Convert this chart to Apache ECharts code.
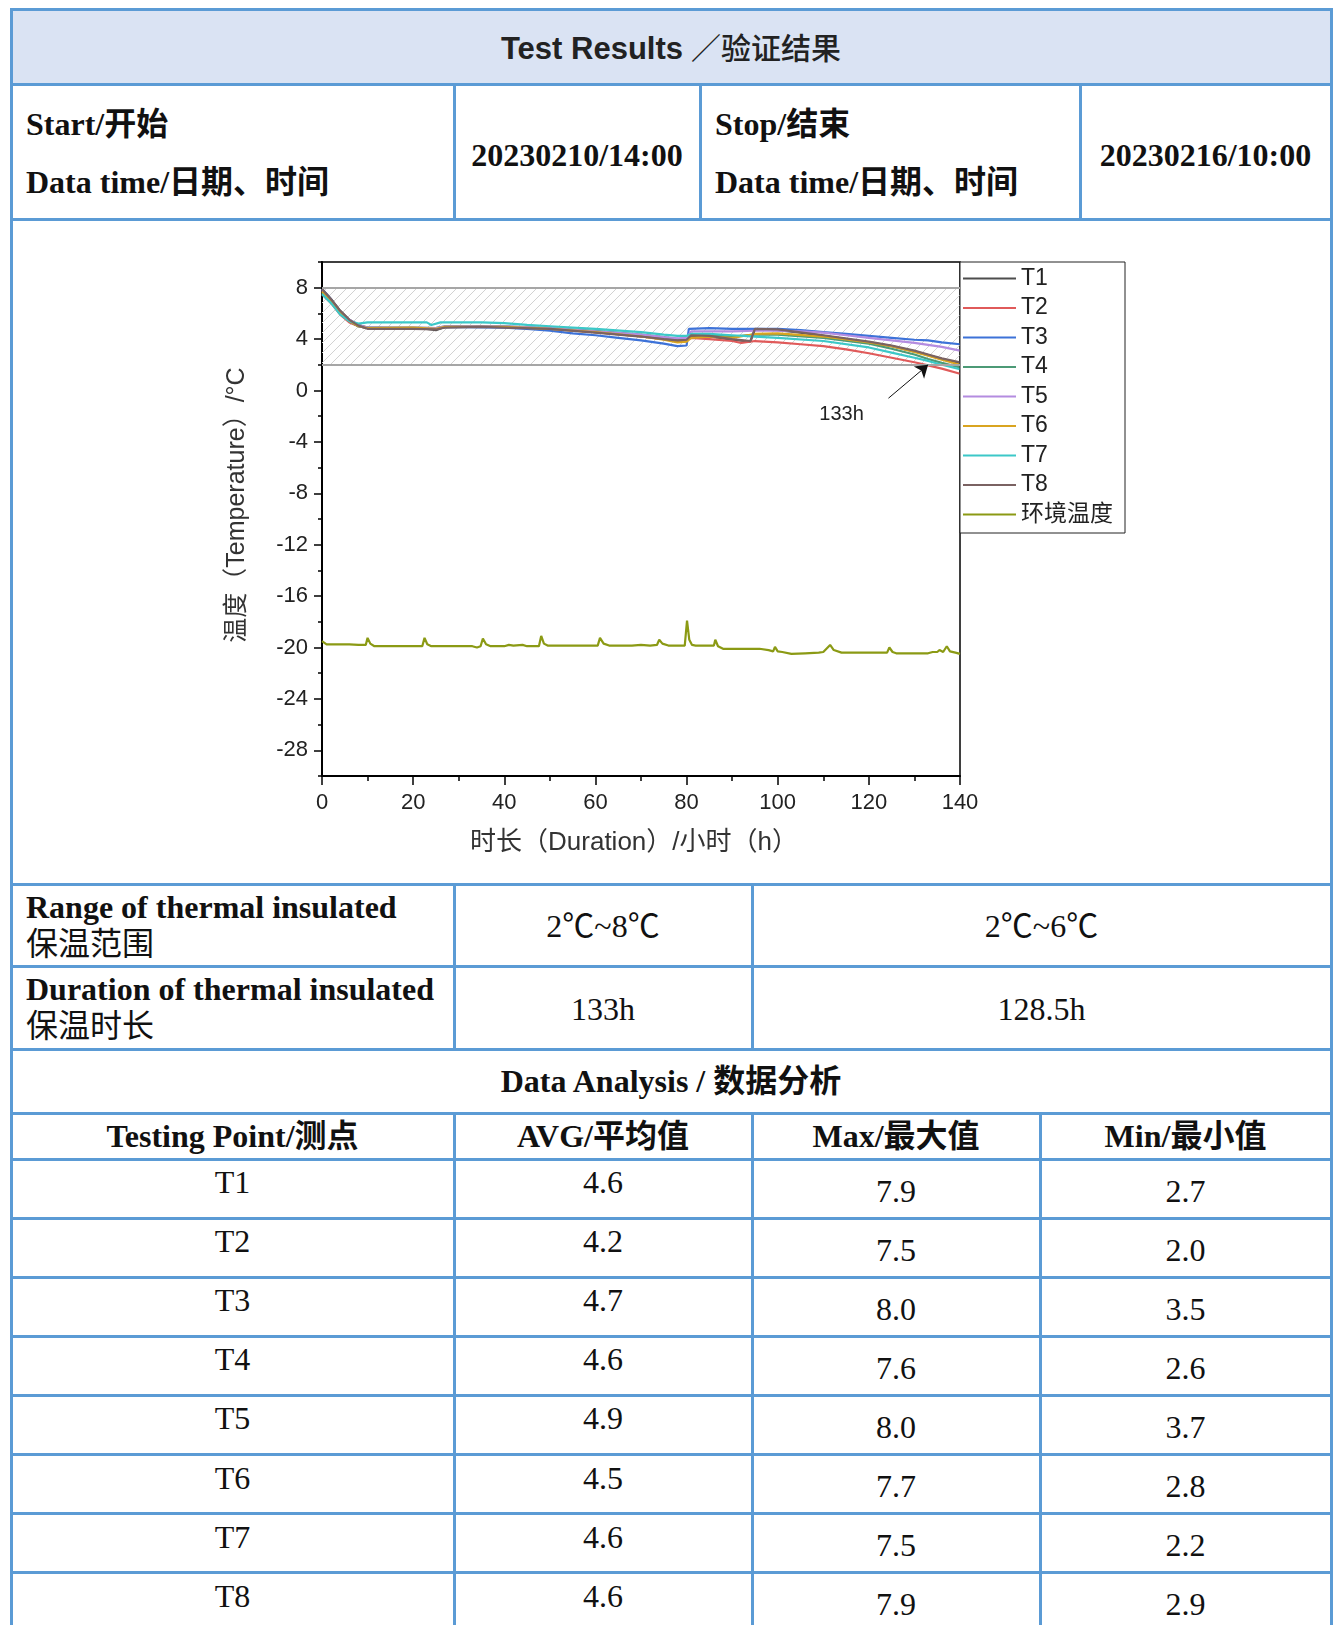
<!DOCTYPE html>
<html><head><meta charset="utf-8">
<script src="https://cdn.jsdelivr.net/npm/echarts@6/dist/echarts.min.js"></script>
<style>
body{margin:0;width:1334px;height:1625px;background:#fff;position:relative;overflow:hidden;}
.c{position:absolute;box-sizing:border-box;border:3px solid #5b9bd5;background:#fff;}
.t{position:absolute;white-space:nowrap;color:#111;font-family:"Liberation Serif","Times New Roman","Noto Sans CJK SC",serif;font-size:32px;line-height:1;}
.b{font-weight:bold;}
</style></head><body>
<div id="cells"></div>
<div id="chart" style="position:absolute;left:13px;top:222px;width:1315px;height:660px;"></div>
<script>
// ---------- chart data ----------
const seriesNames = ['T1','T2','T3','T4','T5','T6','T7','T8','环境温度'];
const yTickLabels = [-28,-24,-20,-16,-12,-8,-4,0,4,8];
const t1 = [[0,7.9],[2,7.1],[4,6.2],[6,5.5],[8,5.1],[10,4.9],[15,4.85],[20,4.85],[23,4.8],[25,4.7],[27,4.95],[30,5.0],[35,5.0],[40,4.95],[45,4.9],[50,4.8],[55,4.7],[60,4.55],[65,4.4],[70,4.25],[75,4.05],[78,3.85],[80,3.85],[81,4.2],[85,4.2],[90,3.95],[94,3.8],[95,4.75],[100,4.7],[105,4.5],[110,4.25],[115,4.0],[120,3.75],[125,3.45],[130,3.05],[133,2.75],[136,2.45],[140,2.1]];
const t2 = [[0,7.5],[2,6.8],[4,5.9],[6,5.3],[8,5.0],[10,4.85],[20,4.85],[25,4.8],[27,4.95],[40,4.95],[50,4.8],[60,4.55],[70,4.2],[75,4.0],[78,3.85],[80,3.9],[81,4.1],[85,4.0],[90,3.85],[92,3.7],[95,3.85],[100,3.75],[105,3.6],[110,3.45],[115,3.2],[120,2.9],[125,2.55],[130,2.2],[133,1.95],[136,1.7],[140,1.3]];
const t3 = [[0,7.9],[2,7.1],[4,6.1],[6,5.4],[8,5.0],[10,4.85],[20,4.85],[25,4.85],[27,4.95],[40,4.9],[45,4.8],[50,4.65],[55,4.45],[60,4.3],[65,4.1],[70,3.9],[75,3.65],[78,3.45],[80,3.5],[80.5,4.8],[85,4.85],[90,4.8],[95,4.8],[100,4.8],[105,4.7],[110,4.55],[115,4.4],[120,4.25],[125,4.1],[130,3.95],[133,3.9],[136,3.75],[140,3.6]];
const t4 = [[0,7.6],[2,6.9],[4,6.0],[6,5.4],[8,5.0],[10,4.9],[20,4.9],[25,4.85],[27,5.0],[40,5.0],[50,4.85],[60,4.65],[70,4.35],[75,4.15],[78,4.0],[80,4.05],[81,4.35],[85,4.3],[90,4.2],[95,4.35],[100,4.35],[110,4.1],[120,3.65],[125,3.25],[130,2.8],[133,2.45],[136,2.15],[140,1.8]];
const t5 = [[0,7.8],[2,7.0],[4,6.1],[6,5.5],[8,5.1],[10,4.9],[20,4.9],[25,4.85],[27,5.0],[40,5.0],[50,4.85],[60,4.6],[70,4.35],[75,4.15],[78,4.05],[80,4.1],[81,4.6],[85,4.6],[90,4.6],[95,4.65],[100,4.65],[105,4.6],[110,4.5],[115,4.3],[120,4.1],[125,3.9],[130,3.7],[133,3.55],[136,3.4],[140,3.1]];
const t6 = [[0,7.7],[2,7.0],[4,6.1],[6,5.4],[8,5.0],[10,4.85],[20,4.9],[25,4.8],[27,4.95],[40,4.95],[50,4.8],[60,4.55],[70,4.2],[75,3.95],[78,3.75],[80,3.8],[81,4.1],[85,4.2],[90,4.1],[95,4.4],[100,4.45],[110,4.2],[120,3.75],[125,3.45],[130,3.0],[133,2.7],[136,2.4],[140,2.0]];
const t7 = [[0,7.5],[2,6.8],[4,5.9],[6,5.4],[8,5.2],[10,5.3],[20,5.3],[23,5.3],[24,5.1],[26,5.3],[35,5.3],[40,5.25],[45,5.1],[50,5.0],[60,4.8],[70,4.55],[75,4.35],[78,4.25],[80,4.25],[81,4.4],[85,4.4],[90,4.3],[95,4.2],[100,4.1],[110,3.85],[120,3.35],[125,2.95],[130,2.55],[133,2.3],[136,2.0],[140,1.65]];
const t8 = [[0,7.9],[2,7.1],[4,6.2],[6,5.5],[8,5.05],[10,4.8],[20,4.8],[25,4.75],[27,4.9],[35,4.95],[40,4.9],[50,4.8],[60,4.5],[70,4.2],[75,4.0],[78,3.9],[80,3.95],[81,4.3],[85,4.25],[90,4.0],[94,3.85],[95,4.8],[100,4.75],[110,4.3],[120,3.8],[125,3.5],[130,3.1],[133,2.8],[136,2.5],[140,2.2]];
const ambient = [[0,-19.5],[1,-19.75],[6,-19.75],[8,-19.8],[9.6,-19.8],[10,-19.25],[10.6,-19.7],[11.5,-19.9],[22,-19.9],[22.5,-19.25],[23.1,-19.75],[24,-19.9],[33,-19.9],[34,-20.0],[34.8,-19.9],[35.3,-19.3],[36,-19.75],[37,-19.9],[40,-19.9],[41,-19.8],[42,-19.85],[44,-19.8],[45,-19.9],[47.6,-19.9],[48.1,-19.1],[48.7,-19.7],[49.5,-19.85],[60.5,-19.85],[61,-19.25],[61.8,-19.7],[63,-19.85],[68,-19.85],[70,-19.8],[72,-19.85],[73.5,-19.8],[74,-19.4],[74.7,-19.7],[76,-19.85],[79.6,-19.85],[80.1,-17.9],[80.6,-19.4],[81.2,-19.8],[82,-19.85],[86,-19.85],[86.3,-19.4],[86.9,-19.9],[88,-20.1],[96,-20.1],[98,-20.2],[99,-20.3],[99.4,-19.95],[100,-20.3],[101,-20.35],[103,-20.5],[106,-20.45],[109,-20.4],[110,-20.35],[111.5,-19.8],[112.3,-20.2],[114,-20.4],[124,-20.4],[124.5,-20.0],[125.2,-20.35],[126,-20.45],[133,-20.45],[134,-20.35],[135,-20.35],[135.5,-20.2],[136.3,-20.35],[137.1,-19.9],[137.8,-20.3],[139,-20.4],[140,-20.5]];
const bandLimits = [8, 2];
const arrowFrom = [124.3, -0.6];
const arrowTo = [133, 2];
const noteAt = [114, -1.9];
const noteText = '133h';

// ---------- table data ----------
const points = ['T1','T2','T3','T4','T5','T6','T7','T8'];
const avgVals = ['4.6','4.2','4.7','4.6','4.9','4.5','4.6','4.6'];
const maxVals = ['7.9','7.5','8.0','7.6','8.0','7.7','7.5','7.9'];
const minVals = ['2.7','2.0','3.5','2.6','3.7','2.8','2.2','2.9'];

// ---------- table drawing ----------
const host = document.getElementById('cells');
function cell(x1,y1,x2,y2,bg){
  const d=document.createElement('div'); d.className='c';
  d.style.left=(x1-1.5)+'px'; d.style.top=(y1-1.5)+'px';
  d.style.width=(x2-x1+3)+'px'; d.style.height=(y2-y1+3)+'px';
  if(bg) d.style.background=bg;
  host.appendChild(d);
}
function txt(x,y,html,cls,align,extra){
  const d=document.createElement('div'); d.className='t '+(cls||'');
  d.innerHTML=html;
  d.style.left=x+'px'; d.style.top=y+'px';
  d.style.transform = align==='left' ? 'translate(0,-50%)' : 'translate(-50%,-50%)';
  if(extra) Object.assign(d.style, extra);
  host.appendChild(d);
}
cell(11,9,1331,84,'#dae3f3');
cell(11,84,454,219); cell(454,84,700,219); cell(700,84,1080,219); cell(1080,84,1331,219);
cell(11,219,1331,884);
cell(11,884,454,966); cell(454,884,752,966); cell(752,884,1331,966);
cell(11,966,454,1049); cell(454,966,752,1049); cell(752,966,1331,1049);
cell(11,1049,1331,1113);
const colX=[11,454,752,1040,1331];
const rowY=[1113,1159];
for(let i=1;i<=8;i++) rowY.push(1159+i*59.1);
for(let r=0;r<rowY.length-1;r++) for(let c=0;c<4;c++) cell(colX[c],rowY[r],colX[c+1],rowY[r+1]);

txt(671,46.5,'<span style="font-family:\'Liberation Sans\',Arial,sans-serif;font-weight:bold;font-size:31px;">Test Results</span> <span style="font-family:\'Noto Sans CJK SC\';font-weight:500;font-size:30px;">／验证结果</span>','','center',{color:'#222'});
txt(26,124,'Start/开始','b','left');
txt(26,182,'Data time/日期、时间','b','left');
txt(715,124,'Stop/结束','b','left');
txt(715,182,'Data time/日期、时间','b','left');
txt(577,154.5,'20230210/14:00','b');
txt(1205.5,154.5,'20230216/10:00','b');
txt(26,907,'Range of thermal insulated','b','left');
txt(26,944,'保温范围','','left');
txt(603,925.6,'2℃~8℃');
txt(1041.5,925.6,'2℃~6℃');
txt(26,989,'Duration of thermal insulated','b','left');
txt(26,1026,'保温时长','','left');
txt(603,1008.5,'133h');
txt(1041.5,1008.5,'128.5h');
txt(671,1081,'Data Analysis / 数据分析','b');
txt(232.5,1136,'Testing Point/测点','b');
txt(603,1136,'AVG/平均值','b');
txt(896,1136,'Max/最大值','b');
txt(1185.5,1136,'Min/最小值','b');
for(let i=0;i<8;i++){
  const top=1159+i*59.1;
  txt(232.5,top+23,points[i]);
  txt(603,top+23,avgVals[i]);
  txt(896,top+31.5,maxVals[i]);
  txt(1185.5,top+31.5,minVals[i]);
}

// ---------- chart ----------
const pat=document.createElement('canvas'); pat.width=10; pat.height=10;
const g=pat.getContext('2d'); g.strokeStyle='#d2d2d2'; g.lineWidth=1;
g.beginPath(); g.moveTo(0,10); g.lineTo(10,0); g.moveTo(-1,1); g.lineTo(1,-1); g.moveTo(9,11); g.lineTo(11,9); g.stroke();

const datas=[t1,t2,t3,t4,t5,t6,t7,t8,ambient];
const colors=['#4d4d4d','#e05a5a','#3d72d8','#4c9a76','#b48ce0','#d9a420','#3cc8c8','#7a6262','#8b9a14'];
const font='"Liberation Sans", Arial, "Noto Sans CJK SC", sans-serif';
const series=seriesNames.map((n,i)=>({
  name:n,type:'line',data:datas[i],symbol:'none',xAxisIndex:0,yAxisIndex:0,
  lineStyle:{width:2.2,color:colors[i]},itemStyle:{color:colors[i]}
}));
series[0].markArea={silent:true,itemStyle:{color:{image:pat,repeat:'repeat'},borderWidth:0},data:[[{yAxis:bandLimits[0]},{yAxis:bandLimits[1]}]]};
series[0].markLine={silent:true,symbol:['none','none'],label:{show:false},lineStyle:{color:'#a6a6a6',width:2,type:'solid'},data:[{yAxis:bandLimits[0]},{yAxis:bandLimits[1]}]};
series[8].markLine={silent:true,symbol:['none','arrow'],symbolSize:12,label:{show:false},lineStyle:{color:'#111',width:1,type:'solid'},data:[[{coord:arrowFrom},{coord:arrowTo}]]};
series[8].markPoint={silent:true,symbol:'rect',symbolSize:1,itemStyle:{color:'rgba(0,0,0,0)'},label:{show:true,position:'inside',formatter:noteText,color:'#222',fontSize:20,fontFamily:font},data:[{coord:noteAt}]};

const chart=echarts.init(document.getElementById('chart'));
chart.setOption({
  animation:false,
  grid:{left:309,top:40,width:638,height:514,show:true,borderColor:'#000',borderWidth:1.5,backgroundColor:'transparent'},
  legend:{orient:'vertical',left:947,top:40,padding:[5,12,7,3],itemGap:6.5,itemWidth:53,itemHeight:2,icon:'rect',
    borderColor:'#222',borderWidth:1,backgroundColor:'#fff',data:seriesNames,
    textStyle:{fontSize:23,lineHeight:22,color:'#222',fontFamily:font}},
  xAxis:{type:'value',min:0,max:140,interval:20,
    name:'时长（Duration）/小时（h）',nameLocation:'middle',nameGap:54,
    nameTextStyle:{fontSize:26,color:'#333',fontFamily:font,padding:[0,14,0,0]},
    axisLine:{show:true,onZero:false,lineStyle:{color:'#000',width:2}},
    axisTick:{show:true,length:9,lineStyle:{color:'#000',width:1.5}},
    minorTick:{show:true,splitNumber:2,length:5,lineStyle:{color:'#000',width:1.5}},
    axisLabel:{fontSize:22,color:'#222',margin:16,fontFamily:font},
    splitLine:{show:false}},
  yAxis:[{type:'value',min:-30,max:10,interval:2,position:'left',
    name:'温度（Temperature）/°C',nameLocation:'middle',nameGap:72,
    nameTextStyle:{fontSize:25,color:'#333',fontFamily:font,padding:[0,0,0,28]},
    axisLine:{show:true,onZero:false,lineStyle:{color:'#000',width:2}},
    axisTick:{show:true,length:8,customValues:yTickLabels,lineStyle:{color:'#000',width:1.5}},
    axisLabel:{customValues:yTickLabels,fontSize:22,color:'#222',margin:14,fontFamily:font},
    splitLine:{show:false}},
   {type:'value',min:-30,max:10,interval:2,position:'left',
    axisLine:{show:false,onZero:false},axisTick:{show:true,length:4,lineStyle:{color:'#000',width:1.5}},
    axisLabel:{show:false},splitLine:{show:false}}],
  series:series
});
</script>
</body></html>
